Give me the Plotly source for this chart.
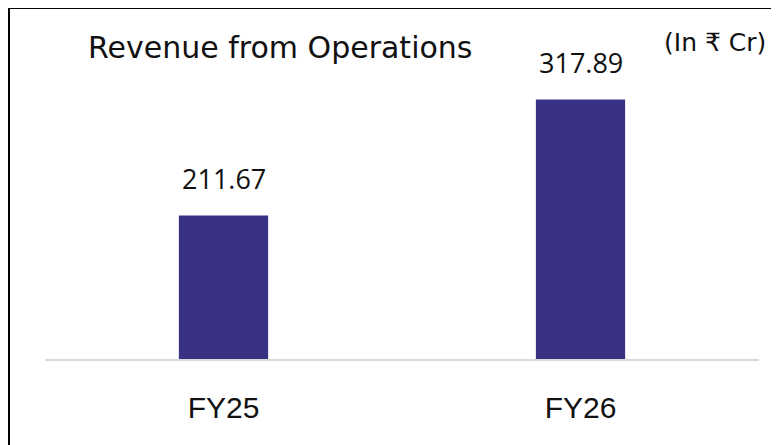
import plotly.graph_objects as go

# data
categories = ["FY25", "FY26"]
revenue = [211.67, 317.89]
value_labels = ["211.67", "317.89"]

title_text = "Revenue from Operations"
unit_text = "(In ₹ Cr)"

# the page puts the figure 8px in from the top-left corner
OFF = 8
W, H = 779, 445
L, R, T, B = 45 - OFF, 20 + OFF, 10 - OFF, 86 + OFF
pw, ph = W - L - R, H - T - B


def px(x):
    return (x - OFF - L) / pw


def py(y):
    return (H - B - (y - OFF)) / ph


fig = go.Figure()
fig.add_trace(go.Bar(x=categories, y=revenue, marker_color="#383184",
                     marker_line_width=0, width=0.25, hoverinfo="skip"))

annotations = []
for c, v, t in zip(categories, revenue, value_labels):
    annotations.append(dict(x=c, y=v, xref="x", yref="y", text=t,
                            showarrow=False, yanchor="middle", yshift=37,
                            font=dict(family="Open Sans", size=27, color="#111111")))

annotations.append(dict(x=px(86), y=py(47), xref="paper", yref="paper",
                        text=title_text, showarrow=False, xanchor="left", yanchor="middle",
                        font=dict(family="DejaVu Sans", size=30, color="#111111")))
annotations.append(dict(x=px(768), y=py(42), xref="paper", yref="paper",
                        text=unit_text, showarrow=False, xanchor="right", yanchor="middle",
                        font=dict(family="DejaVu Sans", size=25, color="#111111")))

# outer border, cut off at right and bottom like the source picture
shapes = [dict(type="rect", xref="paper", yref="paper",
               x0=px(9), x1=px(820), y0=py(480), y1=py(8),
               line=dict(color="#000000", width=2))]

fig.update_layout(
    width=W, height=H,
    margin=dict(l=L, r=R, t=T, b=B),
    paper_bgcolor="white", plot_bgcolor="white",
    showlegend=False,
    annotations=annotations,
    shapes=shapes,
    xaxis=dict(showline=True, linecolor="#d9d9d9", linewidth=2, ticks="",
               tickfont=dict(family="Liberation Sans", size=30, color="#111111"),
               ticklabelstandoff=21, fixedrange=True),
    yaxis=dict(range=[80, 400], visible=False, showgrid=False, zeroline=False,
               fixedrange=True),
)

fig.write_html("out.html")
